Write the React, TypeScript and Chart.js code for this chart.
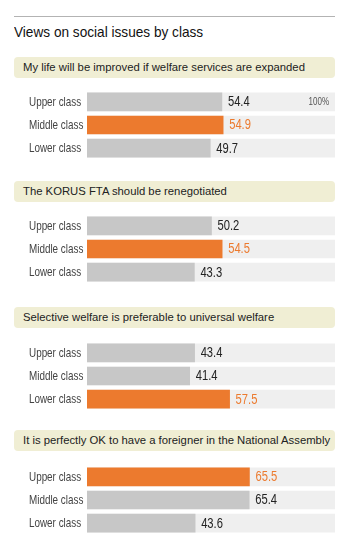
import React, { useEffect, useRef } from "react";
import { Chart, registerables } from "chart.js";

Chart.register(...registerables);

// ---- data ----
const chartTitle = "Views on social issues by class";
const classes = ["Upper class", "Middle class", "Lower class"];
const questions = [
  "My life will be improved if welfare services are expanded",
  "The KORUS FTA should be renegotiated",
  "Selective welfare is preferable to universal welfare",
  "It is perfectly OK to have a foreigner in the National Assembly",
];
const welfareExpansion = [54.4, 54.9, 49.7];
const korusFta = [50.2, 54.5, 43.3];
const selectiveWelfare = [43.4, 41.4, 57.5];
const foreignLawmaker = [65.5, 65.4, 43.6];
const highlightIndex = [1, 1, 2, 0];
const trackValues = [100, 100, 100];
const scaleMaxLabel = "100%";

const seriesList = [welfareExpansion, korusFta, selectiveWelfare, foreignLawmaker];

// ---- style ----
const ORANGE = "#ec7a2e";
const GRAY = "#c7c7c7";
const TRACK = "#efefef";
const HEADER_BG = "#f0eed4";
const SANS = '"Liberation Sans", Arial, sans-serif';

const headerTops = [57, 181, 307, 430];
const chartTops = [83, 207, 334, 458];

function drawSqueezed(ctx: any, text: string, x: number, y: number, sx: number, align: "left" | "right") {
  ctx.save();
  ctx.translate(x, y);
  ctx.scale(sx, 1);
  ctx.textAlign = align;
  ctx.fillText(text, 0, 0);
  ctx.restore();
}

function Panel({ values, hi, showMax, top }: { values: number[]; hi: number; showMax: boolean; top: number }) {
  const ref = useRef<HTMLCanvasElement | null>(null);
  useEffect(() => {
    if (!ref.current) return;
    const labelPlugin = {
      id: "valueLabels",
      afterDatasetsDraw(chart: any) {
        const ctx = chart.ctx;
        const meta = chart.getDatasetMeta(0);
        const yScale = chart.scales.y;
        ctx.save();
        ctx.textBaseline = "middle";
        // category labels (from the y scale)
        ctx.font = `13px ${SANS}`;
        ctx.fillStyle = "#444";
        yScale.ticks.forEach((t: any, i: number) => {
          const py = yScale.getPixelForTick(i);
          drawSqueezed(ctx, String(yScale.getLabelForValue(t.value)), yScale.left, py + 0.5, 0.76, "left");
        });
        // value labels
        ctx.font = `14px ${SANS}`;
        meta.data.forEach((bar: any, i: number) => {
          ctx.fillStyle = i === hi ? ORANGE : "#222";
          drawSqueezed(ctx, values[i].toFixed(1), bar.x + 6, bar.y + 0.5, 0.8, "left");
        });
        if (showMax) {
          const b0 = meta.data[0];
          ctx.font = `10px ${SANS}`;
          ctx.fillStyle = "#555";
          drawSqueezed(ctx, scaleMaxLabel, chart.chartArea.right - 6, b0.y + 0.5, 0.8, "right");
        }
        ctx.restore();
      },
    };
    const chart = new Chart(ref.current, {
      type: "bar",
      data: {
        labels: classes,
        datasets: [
          {
            data: values,
            backgroundColor: values.map((_, i) => (i === hi ? ORANGE : GRAY)),
            grouped: false,
            barThickness: 18,
            borderWidth: 0,
          } as any,
          {
            data: trackValues,
            backgroundColor: TRACK,
            grouped: false,
            barThickness: 18,
            borderWidth: 0,
          } as any,
        ],
      },
      options: {
        indexAxis: "y",
        responsive: false,
        animation: false,
        layout: { padding: 0 },
        plugins: { legend: { display: false }, tooltip: { enabled: false } },
        scales: {
          x: { min: 0, max: 100, display: false },
          y: {
            afterFit: (s: any) => {
              s.width = 58;
            },
            grid: { display: false },
            border: { display: false },
            ticks: {
              color: "rgba(0,0,0,0)",
              padding: 0,
              font: { family: SANS, size: 12 },
            },
          },
        },
      },
      plugins: [labelPlugin],
    });
    return () => chart.destroy();
  }, [values, hi, showMax]);
  return (
    <canvas
      ref={ref}
      width={306}
      height={84}
      style={{ position: "absolute", left: 29, top, width: 306, height: 84 }}
    />
  );
}

export default function App() {
  return (
    <div style={{ position: "absolute", left: 0, top: 0, width: 350, height: 549, background: "#fff", overflow: "hidden" }}>
      <div style={{ position: "absolute", left: 14, top: 16, width: 321, height: 1, background: "#b3b3b3" }} />
      <div
        style={{
          position: "absolute",
          left: 14,
          top: 25,
          fontFamily: SANS,
          fontSize: 14.5,
          lineHeight: "14px",
          color: "#111",
          whiteSpace: "nowrap",
          transform: "scaleX(0.94)",
          transformOrigin: "left center",
        }}
      >
        {chartTitle}
      </div>
      {questions.map((q, k) => (
        <div
          key={"h" + k}
          style={{
            position: "absolute",
            left: 14,
            top: headerTops[k],
            width: 321,
            height: 21,
            background: HEADER_BG,
            borderRadius: 4,
            fontFamily: SANS,
            fontSize: 11.3,
            lineHeight: "21px",
            color: "#222",
            paddingLeft: 9,
            boxSizing: "border-box",
            whiteSpace: "nowrap",
          }}
        >
          {q}
        </div>
      ))}
      {seriesList.map((s, k) => (
        <Panel key={"p" + k} values={s} hi={highlightIndex[k]} showMax={k === 0} top={chartTops[k]} />
      ))}
    </div>
  );
}
